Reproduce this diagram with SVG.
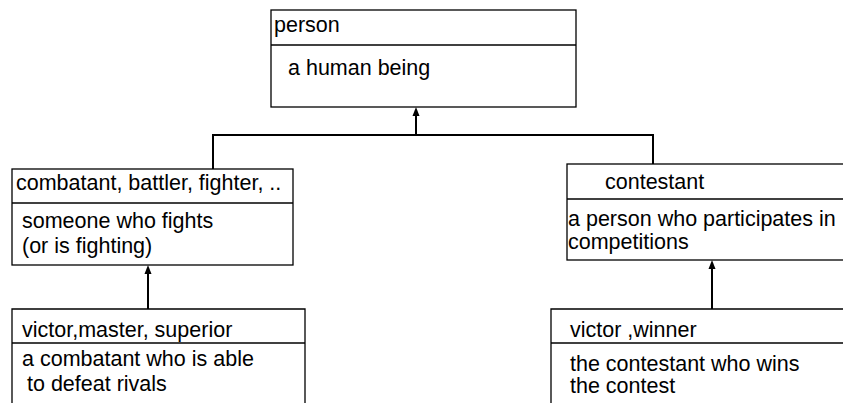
<svg xmlns="http://www.w3.org/2000/svg" width="843" height="403" viewBox="0 0 843 403">
<style>
.box{fill:#fff;stroke:#000;stroke-width:1.3}
.div{stroke:#000;stroke-width:1.3}
.t{font-family:"Liberation Sans",Arial,sans-serif;font-size:21.5px;fill:#000}
.c{fill:none;stroke:#000;stroke-width:2}
.ah{fill:#000}
</style>
<rect x="0" y="0" width="843" height="403" fill="#fff"/>
<g id="connectors">
<path class="c" d="M213,169 V135 H653 V164"/>
<path class="c" d="M416,135 V114"/>
<polygon class="ah" points="416,107 412.5,116 419.5,116"/>
<path class="c" d="M148,309 V272"/>
<polygon class="ah" points="148,265 144.5,274 151.5,274"/>
<path class="c" d="M712,309 V267"/>
<polygon class="ah" points="712,260 708.5,269 715.5,269"/>
</g>
<g id="person">
<rect class="box" x="271" y="10" width="305" height="97"/>
<line class="div" x1="271" y1="45" x2="576" y2="45"/>
<text class="t" x="274" y="32">person</text>
<text class="t" x="288" y="75">a human being</text>
</g>
<g id="combatant">
<rect class="box" x="12" y="169" width="281" height="96"/>
<line class="div" x1="12" y1="203" x2="293" y2="203"/>
<text class="t" x="16" y="190">combatant, battler, fighter, ..</text>
<text class="t" x="22" y="228">someone who fights</text>
<text class="t" x="22" y="253">(or is fighting)</text>
</g>
<g id="contestant">
<rect class="box" x="567" y="164" width="290" height="96"/>
<line class="div" x1="567" y1="199" x2="857" y2="199"/>
<text class="t" x="605" y="189">contestant</text>
<text class="t" x="568" y="226">a person who participates in</text>
<text class="t" x="568" y="249">competitions</text>
</g>
<g id="victor-master">
<path class="box" d="M12,410 V309 H305 V410"/>
<line class="div" x1="12" y1="343" x2="305" y2="343"/>
<text class="t" x="22" y="337">victor,master, superior</text>
<text class="t" x="22" y="366">a combatant who is able</text>
<text class="t" x="27" y="391">to defeat rivals</text>
</g>
<g id="victor-winner">
<path class="box" d="M551,410 V309 H860"/>
<line class="div" x1="551" y1="343" x2="860" y2="343"/>
<text class="t" x="570" y="337">victor ,winner</text>
<text class="t" x="570" y="371">the contestant who wins</text>
<text class="t" x="570" y="393">the contest</text>
</g>
</svg>
